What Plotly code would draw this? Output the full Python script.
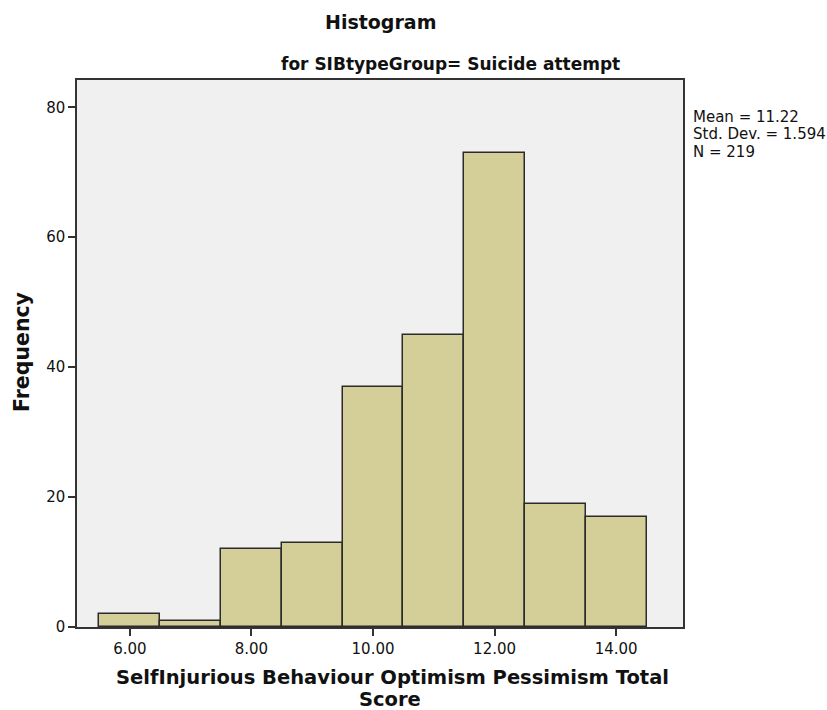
import plotly.graph_objects as go

bin_centers = [6, 7, 8, 9, 10, 11, 12, 13, 14]
frequencies = [2, 1, 12, 13, 37, 45, 73, 19, 17]
x_ticks = [6, 8, 10, 12, 14]
x_tick_labels = ["6.00", "8.00", "10.00", "12.00", "14.00"]
y_ticks = [0, 20, 40, 60, 80]
stats_lines = ["Mean = 11.22", "Std. Dev. = 1.594", "N = 219"]
title_text = "Histogram"
subtitle_text = "for SIBtypeGroup= Suicide attempt"
x_title_lines = ["SelfInjurious Behaviour Optimism Pessimism Total", "Score"]
y_title = "Frequency"

FONT = "DejaVu Sans"
W, H = 827, 710
L, R, T, B = 77, 683, 80, 627
PW, PH = R - L, B - T

def px(x):
    return (x - L) / PW

def py(y):
    return (B - y) / PH

fig = go.Figure()
fig.add_trace(go.Bar(
    x=bin_centers, y=frequencies, width=1,
    marker=dict(color="#d4cf98", line=dict(color="#2b2b2b", width=1.5)),
    showlegend=False, hoverinfo="x+y",
))

fig.update_layout(
    width=W, height=H,
    paper_bgcolor="white", plot_bgcolor="#f0f0f0",
    margin=dict(l=L, r=W - R, t=T, b=H - B, autoexpand=False),
    font=dict(family=FONT, color="#111111"),
    bargap=0,
)
fig.update_xaxes(
    range=[5.13, 15.1], tickvals=x_ticks, ticktext=x_tick_labels,
    ticks="outside", ticklen=7, tickcolor="#333", tickwidth=1.5,
    showline=True, linecolor="#333", linewidth=1.5, mirror=True,
    showgrid=False, zeroline=False, automargin=False,
    tickfont=dict(size=15, family=FONT, color="#111"),
)
fig.update_yaxes(
    range=[0, 84.2], tickvals=y_ticks,
    ticks="outside", ticklen=7, tickcolor="#333", tickwidth=1.5,
    showline=True, linecolor="#333", linewidth=1.5, mirror=True,
    showgrid=False, zeroline=False, automargin=False,
    tickfont=dict(size=15, family=FONT, color="#111"),
)

def ann(text, x, y, size, xanchor="center", yanchor="middle", angle=0, align="center"):
    fig.add_annotation(
        text=text, xref="paper", yref="paper", x=px(x), y=py(y),
        xanchor=xanchor, yanchor=yanchor, textangle=angle, align=align,
        showarrow=False, font=dict(size=size, family=FONT, color="#111"),
    )

ann("<b>%s</b>" % title_text, 380, 22, 19)
ann("<b>%s</b>" % subtitle_text, 450, 64, 17)
ann("<b>%s</b>" % x_title_lines[0], 392, 677, 19.5)
ann("<b>%s</b>" % x_title_lines[1], 390, 699, 19.5)
ann("<b>%s</b>" % y_title, 22, 352, 20.5, angle=-90)
for i, line in enumerate(stats_lines):
    ann(line, 691, 117 + 17.5 * i, 15, xanchor="left")

fig.write_html("out.html", config={"displayModeBar": False},
               post_script="document.body.style.margin='0';")
